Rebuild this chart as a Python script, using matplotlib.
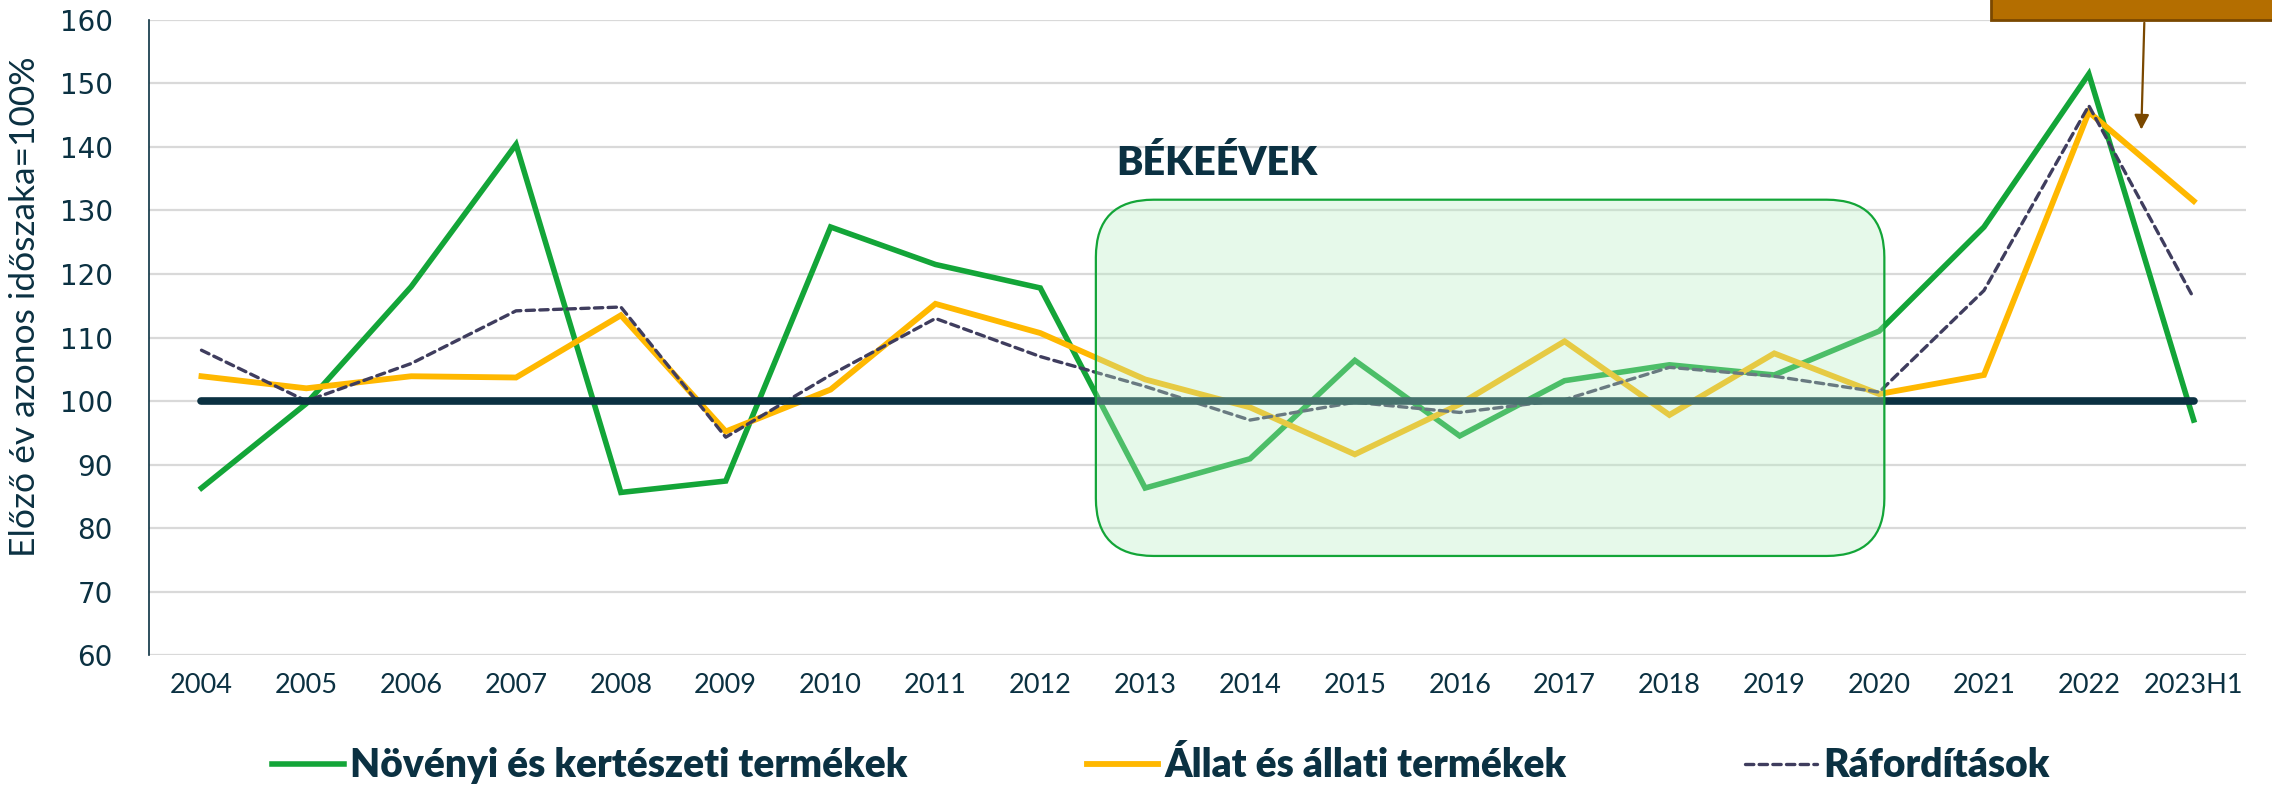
import numpy as np
import matplotlib
matplotlib.use('Agg')
import matplotlib.pyplot as plt
from matplotlib.patches import FancyBboxPatch, Rectangle

years = ['2004', '2005', '2006', '2007', '2008', '2009', '2010', '2011', '2012', '2013',
         '2014', '2015', '2016', '2017', '2018', '2019', '2020', '2021', '2022', '2023H1']

novenyi = [86.3, 99.6, 118.0, 140.4, 85.6, 87.4, 127.4, 121.5, 117.8, 86.3,
           90.9, 106.4, 94.5, 103.2, 105.7, 104.1, 111.0, 127.4, 151.5, 97.0]
allat = [103.9, 102.0, 103.9, 103.7, 113.5, 95.2, 101.8, 115.3, 110.7, 103.4,
         99.0, 91.6, 99.5, 109.4, 97.8, 107.5, 101.1, 104.1, 145.5, 131.5]
raforditas = [108.0, 100.0, 105.9, 114.2, 114.8, 94.3, 104.1, 113.0, 107.0, 102.3,
              97.0, 99.8, 98.2, 100.2, 105.3, 103.9, 101.4, 117.4, 146.5, 116.2]
bazis = [100] * len(years)

navy = '#0B3142'
green = '#13A538'
yellow = '#FFB800'
dash_col = '#3F3D5E'

fig = plt.figure(figsize=(22.72, 7.87), dpi=100)
ax = fig.add_axes([0.0656, 0.1677, 0.9230, 0.8069])

x = np.arange(len(years))
ax.plot(x, novenyi, color=green, lw=4.0, zorder=3, solid_joinstyle='miter',
        label='Növényi és kertészeti termékek')
ax.plot(x, allat, color=yellow, lw=4.2, zorder=4, solid_joinstyle='miter',
        label='Állat és állati termékek')
ax.plot(x, raforditas, color=dash_col, lw=2.4, zorder=5, dashes=(2.5, 1.6),
        dash_capstyle='round', label='Ráfordítások')
ax.plot(x, bazis, color=navy, lw=5.5, zorder=6, solid_capstyle='round')

# békeévek box
box = FancyBboxPatch((8.53, 75.6), 16.05 - 8.53, 131.7 - 75.6,
                     boxstyle='round,pad=0,rounding_size=0.55', mutation_aspect=16.5,
                     facecolor='#B8EEC3', alpha=0.35, edgecolor='none', zorder=7)
ax.add_patch(box)
box_edge = FancyBboxPatch((8.53, 75.6), 16.05 - 8.53, 131.7 - 75.6,
                          boxstyle='round,pad=0,rounding_size=0.55', mutation_aspect=16.5,
                          facecolor='none', edgecolor=green, lw=1.6, zorder=8)
ax.add_patch(box_edge)
ax.text(9.68, 137.4, 'BÉKEÉVEK', fontsize=28.5, fontweight='heavy', family='Lato',
        color=navy, ha='center', va='center', zorder=9)

# brown callout box at top right
ax.add_patch(Rectangle((17.07, 160), 4, 20, facecolor='#B46E00', edgecolor='#7A4800',
                       lw=2, clip_on=False, zorder=9))
ax.annotate('', xy=(18.5, 142.3), xytext=(18.53, 160),
            arrowprops=dict(arrowstyle='-|>', color='#7A4800', lw=1.6, mutation_scale=22),
            zorder=9)

ax.set_xlim(-0.5, len(years) - 0.5)
ax.set_ylim(60, 160)
ax.set_yticks(np.arange(60, 161, 10))
ax.set_xticks(x)
ax.set_xticklabels(years, family='Lato', fontsize=19.5, color=navy)
ax.tick_params(axis='x', length=0, pad=13)
ax.tick_params(axis='y', length=0, pad=26, labelsize=20, labelcolor=navy)
ax.yaxis.grid(True, color='#D9D9D9', lw=1.6, zorder=0)
ax.set_axisbelow(True)
for s in ['top', 'right', 'bottom']:
    ax.spines[s].set_visible(False)
ax.spines['left'].set_color(navy)
ax.spines['left'].set_linewidth(1.2)

ax.set_ylabel('Előző év azonos időszaka=100%', family='Lato', fontsize=25.5, color=navy)
ax.yaxis.set_label_coords(-0.0517, 0.548)

leg = fig.legend(loc='center', bbox_to_anchor=(0.511, 0.027), ncol=3, frameon=False,
                 prop={'family': 'Lato', 'weight': 'heavy', 'size': 28},
                 handlelength=1.85, handletextpad=0.15, columnspacing=4.6)
for t in leg.get_texts():
    t.set_color(navy)

fig.savefig('out.png', dpi=100)
